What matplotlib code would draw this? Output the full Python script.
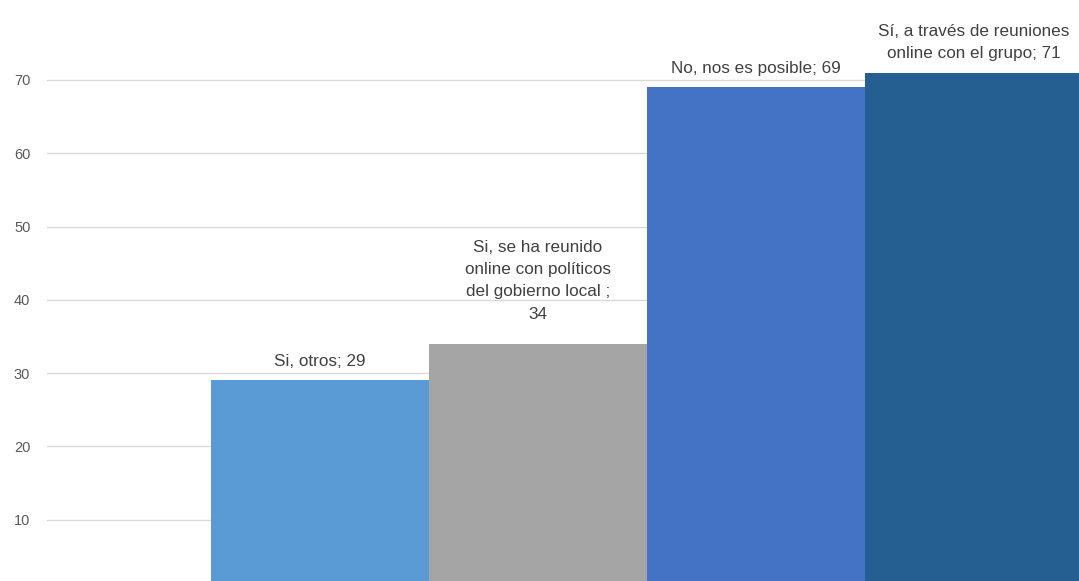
import matplotlib
matplotlib.use("Agg")
import matplotlib.pyplot as plt

categories = ["Si, otros", "Si, se ha reunido\nonline con políticos\ndel gobierno local ;\n", "No, nos es posible", "Sí, a través de reuniones\nonline con el grupo"]
values = [29, 34, 69, 71]
colors = ["#5B9BD5", "#A5A5A5", "#4472C4", "#255E91"]
yticks = [10, 20, 30, 40, 50, 60, 70]
label_offsets = [8, 16, 8, 8]

W, H = 1079, 581
fig = plt.figure(figsize=(W / 100, H / 100), dpi=100)
ax = fig.add_axes([47 / W, 0, 1 - 47 / W, 1])

x = list(range(len(values)))
ax.bar(x, values, width=1.0, color=colors, zorder=2)
ax.set_xlim(-1.252, 3.482)
ax.set_ylim(1.64, 80.9)

ax.set_yticks(yticks)
ax.set_yticklabels([str(t) for t in yticks], fontsize=10.5, color="#595959", family="Liberation Sans")
ax.tick_params(axis="y", length=0, pad=12)
ax.set_xticks([])
ax.yaxis.grid(True, color="#D9D9D9", linewidth=1, zorder=0)
ax.set_axisbelow(True)
for s in ax.spines.values():
    s.set_visible(False)

for xi, v, c, off in zip(x, values, categories, label_offsets):
    sep = "" if c.endswith("\n") else "; "
    ax.annotate(f"{c}{sep}{v}", (xi, v), xytext=(0, off), textcoords="offset points",
                ha="center", va="bottom", fontsize=12.3, color="#404040",
                family="Liberation Sans", linespacing=1.6)

fig.savefig("out.png", dpi=100)
